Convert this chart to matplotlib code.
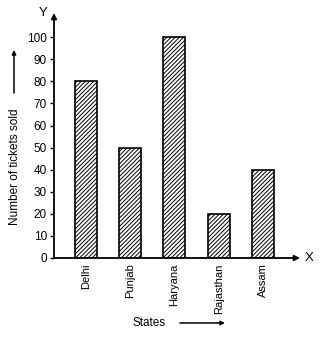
import matplotlib.pyplot as plt
import numpy as np

plt.rcParams['font.family'] = ['Liberation Sans', 'DejaVu Sans']
plt.rcParams['hatch.linewidth'] = 0.7

states = ['Delhi', 'Punjab', 'Haryana', 'Rajasthan', 'Assam']
tickets = [80, 50, 100, 20, 40]
y_ticks = [0, 10, 20, 30, 40, 50, 60, 70, 80, 90, 100]

W, H = 323, 343
fig = plt.figure(figsize=(W / 100, H / 100), dpi=100)
# axes box in pixels: x 54..300, y 13..258
ax = fig.add_axes([54 / W, (H - 258) / H, (300 - 54) / W, (258 - 13) / H])

x = np.arange(len(states))
ax.bar(x, tickets, width=0.5, color='white', edgecolor='black',
       linewidth=1.2, hatch='////////', zorder=2)

ax.set_xlim(-0.723, 4.84)
ax.set_ylim(0, 111)

for s in ax.spines.values():
    s.set_visible(False)

arrow = dict(arrowstyle='-|>', color='black', lw=1.3,
             mutation_scale=8, shrinkA=0, shrinkB=0)

# axes drawn as arrows
ax.annotate('', xy=(1, 0), xytext=(0, 0), xycoords='axes fraction', arrowprops=arrow)
ax.annotate('', xy=(0, 1), xytext=(0, 0), xycoords='axes fraction', arrowprops=arrow)
ax.text(1.02, 0, 'X', transform=ax.transAxes, ha='left', va='center', fontsize=9.5)
ax.text(-0.025, 1.0, 'Y', transform=ax.transAxes, ha='right', va='center', fontsize=9.5)

ax.set_yticks(y_ticks)
ax.set_yticklabels([str(v) for v in y_ticks], fontsize=8.5)
ax.tick_params(axis='y', length=3, width=1, pad=2, direction='out')
ax.set_xticks(x)
ax.set_xticklabels(states, rotation=90, fontsize=8)
ax.tick_params(axis='x', length=0, pad=4)

# axis titles with arrows
label_arrow = dict(arrowstyle='-|>', color='black', lw=1.1,
                   mutation_scale=6, shrinkA=0, shrinkB=0)
fig.text(15 / W, 1 - 167 / H, 'Number of tickets sold', rotation=90,
         ha='center', va='center', fontsize=8.5)
fig.add_artist(plt.Annotation('', xy=(14 / W, 1 - 50 / H), xytext=(14 / W, 1 - 93 / H),
                              xycoords='figure fraction', arrowprops=label_arrow))
fig.text(149 / W, 1 - 323 / H, 'States', ha='center', va='center', fontsize=8.5)
fig.add_artist(plt.Annotation('', xy=(225 / W, 1 - 323 / H), xytext=(180 / W, 1 - 323 / H),
                              xycoords='figure fraction', arrowprops=label_arrow))

fig.savefig('out.png', dpi=100)
